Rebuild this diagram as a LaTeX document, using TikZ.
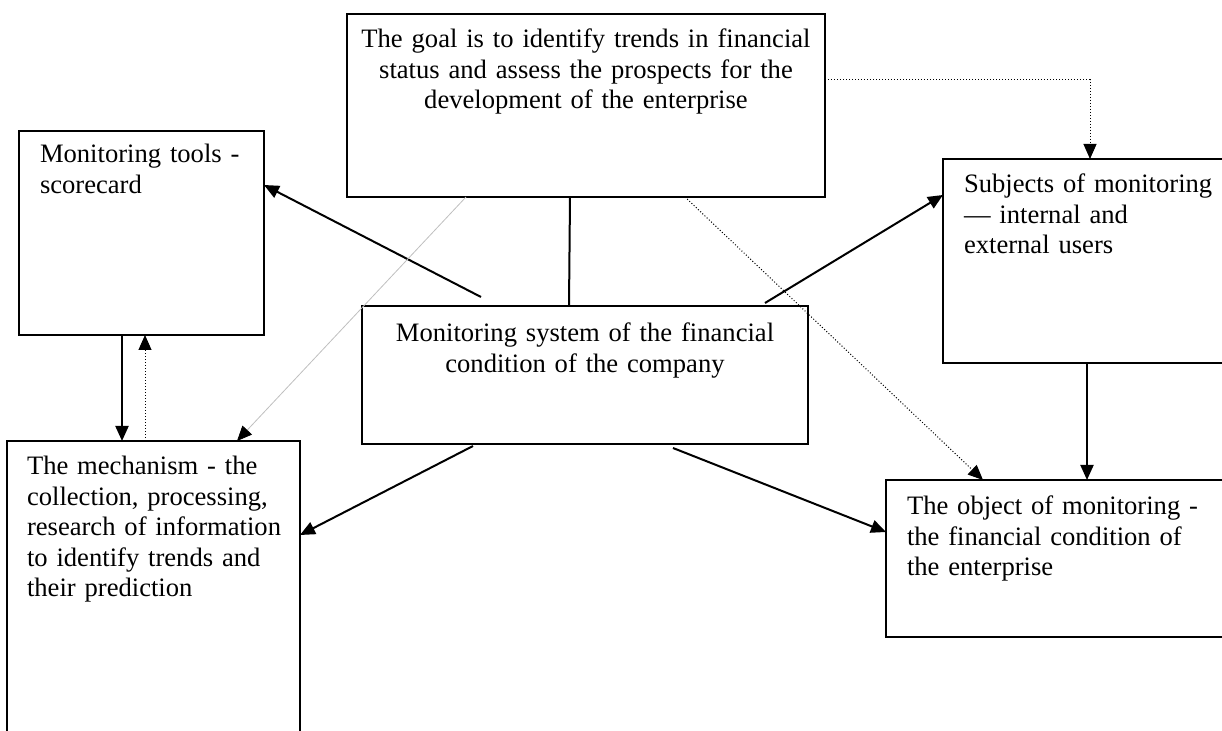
\documentclass[tikz,border=0pt]{standalone}
\usepackage{fontspec}
\setmainfont{Liberation Serif}
\usetikzlibrary{arrows.meta}
\tikzset{
    plain-box/.style = {draw=black, line width=1pt, rectangle, anchor=north west, inner xsep=10.5pt, inner ysep=0pt, outer sep=0pt, align=left, font=\fontsize{13.3}{15.2}\selectfont},
    centred-box/.style = {plain-box, inner xsep=4pt, align=center},
    link/.style = {line width=1pt, -{Triangle[length=7.5pt,width=6.5pt]}},
    dotted-link/.style = {line width=0.5pt, densely dotted, -{Triangle[length=7.5pt,width=6.5pt]}},
    faint-link/.style = {line width=0.4pt, draw=black!25, -{Triangle[length=7.5pt,width=6.5pt,color=black]}},
}
\begin{document}
\begin{tikzpicture}[x=0.5pt, y=-0.5pt]
\useasboundingbox (0,0) rectangle (1222,731);
\node [centred-box, text width=231pt, text height=17pt, text depth=74.5pt] (goal) at (347,14) {The goal is to identify trends in financial\\ status and assess the prospects for the\\ development of the enterprise};
\node [centred-box, text width=215pt, text height=18pt, text depth=51pt] (centre) at (362,306) {Monitoring system of the financial\\ condition of the company};
\node [plain-box, text width=101.5pt, text height=16pt, text depth=86pt] (tools) at (19,131) {Monitoring tools -\\ scorecard};
\node [plain-box, text width=150pt, text height=17pt, text depth=85pt] (subjects) at (943,159) {Subjects of monitoring\\ --- internal and\\ external users};
\node [plain-box, inner xsep=10pt, text width=126.5pt, text height=17pt, text depth=160pt] (mechanism) at (7,441) {The mechanism - the\\ collection, processing,\\ \mbox{research of information}\\ to identify trends and\\ their prediction};
\node [plain-box, text width=160pt, text height=17.5pt, text depth=61pt] (object) at (886,480) {The object of monitoring -\\ the financial condition of\\ the enterprise};

\draw [line width=1pt] ([xshift=-8pt]goal.south) -- ([xshift=-8pt]centre.north);
\draw [link] ([xshift=59.5pt, yshift=4.5pt]centre.north west) -- ([yshift=-27pt]tools.north east);
\draw [link] ([xshift=-21.5pt, yshift=1.5pt]centre.north east) -- ([yshift=-18pt]subjects.north west);
\draw [link] ([xshift=55.5pt, yshift=-1pt]centre.south west) -- ([yshift=-47pt]mechanism.north east);
\draw [link] ([xshift=155.5pt, yshift=-2pt]centre.south west) -- ([yshift=-26pt]object.north west);
\draw [link] ([xshift=51.5pt]tools.south west) -- ([xshift=57.5pt]mechanism.north west);
\draw [dotted-link] ([xshift=69pt]mechanism.north west) -- ([xshift=63pt]tools.south west);
\draw [link] ([xshift=72pt]subjects.south west) -- ([xshift=100.5pt]object.north west);
\draw [dotted-link] ([yshift=-33pt]goal.north east) -| ([xshift=73.5pt]subjects.north west);
\draw [dotted-link] ([xshift=169pt]goal.south west) -- ([xshift=48.5pt]object.north west);
\draw [faint-link] ([xshift=59.5pt]goal.south west) -- ([xshift=115pt]mechanism.north west);
\end{tikzpicture}
\end{document}
